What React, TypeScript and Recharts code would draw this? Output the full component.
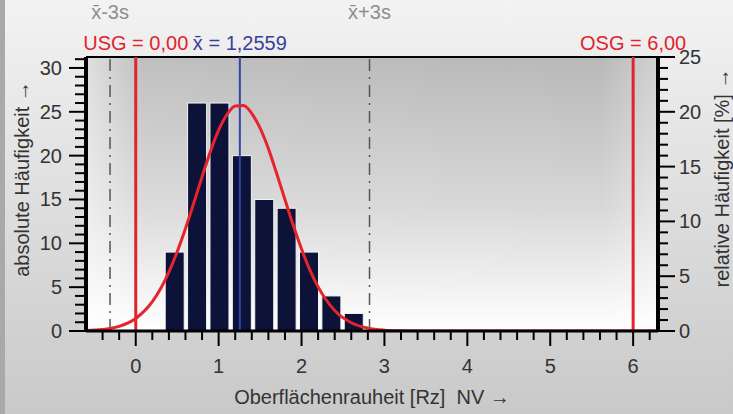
import React from "react";
import { ComposedChart, Bar, Line, XAxis, YAxis, CartesianGrid, ReferenceLine, ReferenceArea, Label } from "recharts";

// histogram bins (class centres) and absolute counts
const binCenters = [0.47, 0.74, 1.01, 1.28, 1.55, 1.82, 2.09, 2.36, 2.63];
const binCounts = [9, 26, 26, 20, 15, 14, 9, 4, 2];

// fitted normal curve
const fitX = [-0.6, -0.4, -0.2, 0, 0.2, 0.4, 0.5, 0.6, 0.7, 0.8, 0.9, 1.0, 1.1, 1.2, 1.3, 1.4, 1.5, 1.6, 1.7, 1.8, 1.9, 2.0, 2.1, 2.2, 2.4, 2.6, 2.8, 3.0, 3.2, 3.4, 4, 5, 6, 6.3];
const fitY = [0.05, 0.17, 0.53, 1.43, 3.34, 6.72, 9.04, 11.7, 14.6, 17.6, 20.45, 22.9, 24.67, 25.65, 25.71, 24.8, 23.13, 20.8, 17.97, 15.0, 12.05, 9.35, 6.98, 5.03, 2.34, 0.94, 0.33, 0.1, 0.03, 0.01, 0, 0, 0, 0];

const xTicks = [-0.4, -0.2, 0, 0.2, 0.4, 0.6, 0.8, 1, 1.2, 1.4, 1.6, 1.8, 2, 2.2, 2.4, 2.6, 2.8, 3, 3.2, 3.4, 3.6, 3.8, 4, 4.2, 4.4, 4.6, 4.8, 5, 5.2, 5.4, 5.6, 5.8, 6, 6.2];
const leftTicks = [0, 1, 2, 3, 4, 5, 6, 7, 8, 9, 10, 11, 12, 13, 14, 15, 16, 17, 18, 19, 20, 21, 22, 23, 24, 25, 26, 27, 28, 29, 30, 31];
const rightTicks = [0, 1, 2, 3, 4, 5, 6, 7, 8, 9, 10, 11, 12, 13, 14, 15, 16, 17, 18, 19, 20, 21, 22, 23, 24, 25];

const mean = 1.2559;
const usg = 0;
const osg = 6;
const minus3s = -0.31;
const plus3s = 2.82;
const countMax = 31.25; // = 25 % of n
const pctMax = 25;

const bars = binCenters.map((x, i) => ({ x, count: binCounts[i] }));
const fit = fitX.map((x, i) => ({ x, fit: fitY[i] }));

const FONT = "'Liberation Sans', Arial, sans-serif";
const TXT = "#333";
const RED = "#e3232b";
const BAR_W = 19;

const isMajor = (v: number, step: number) => Math.abs(v / step - Math.round(v / step)) < 1e-6;

const XTick = (p: any) => {
  const major = isMajor(p.payload.value, 1);
  return (
    <g>
      <line x1={p.x} x2={p.x} y1={p.y} y2={p.y + (major ? 15 : 9)} stroke="#000" strokeWidth={2} />
      {major && (
        <text x={p.x} y={p.y + 42} textAnchor="middle" fontSize={20} fontFamily={FONT} fill={TXT}>
          {Math.round(p.payload.value)}
        </text>
      )}
    </g>
  );
};

const LeftTick = (p: any) => {
  const major = isMajor(p.payload.value, 5);
  return (
    <g>
      <line x1={p.x - (major ? 17 : 11)} x2={p.x} y1={p.y} y2={p.y} stroke="#000" strokeWidth={2} />
      {major && (
        <text x={p.x - 24} y={p.y + 7} textAnchor="end" fontSize={20} fontFamily={FONT} fill={TXT}>
          {p.payload.value}
        </text>
      )}
    </g>
  );
};

const RightTick = (p: any) => {
  const major = isMajor(p.payload.value, 5);
  return (
    <g>
      <line x1={p.x} x2={p.x + (major ? 17 : 10)} y1={p.y} y2={p.y} stroke="#000" strokeWidth={2} />
      {major && (
        <text x={p.x + 21} y={p.y + 7} textAnchor="start" fontSize={20} fontFamily={FONT} fill={TXT}>
          {p.payload.value}
        </text>
      )}
    </g>
  );
};

// bar drawn with fixed width, centred on the slot recharts computed
const BinShape = (p: any) => {
  if (!p.height) return null;
  const cx = p.x + p.width / 2;
  return <rect x={cx - BAR_W / 2} y={p.y} width={BAR_W} height={p.height} fill="#0d1239" stroke="#f4f4f4" strokeWidth={1} />;
};

const topLabel = (value: string, fill: string, offset: number) => ({
  value,
  position: "top" as const,
  offset,
  fill,
  fontSize: 20,
  fontFamily: FONT,
});

export default function App() {
  return (
    <div
      style={{
        position: "absolute",
        left: 0,
        top: 0,
        width: 733,
        height: 414,
        background: "linear-gradient(to bottom, #f3f3f3 0%, #e2e2e2 40%, #c9c9c9 100%)",
        boxShadow: "inset 5px 0 0 #a9a9a9",
      }}
    >
      <ComposedChart width={733} height={414} data={bars} margin={{ top: 57, right: 0, bottom: 0, left: 0 }}>
        <defs>
          <linearGradient id="plotBg" x1="0" y1="0" x2="0" y2="1">
            <stop offset="0%" stopColor="#b8b8b8" />
            <stop offset="55%" stopColor="#d8d8d8" />
            <stop offset="100%" stopColor="#ffffff" />
          </linearGradient>
          <linearGradient id="plotSide" x1="0" y1="0" x2="1" y2="0">
            <stop offset="0%" stopColor="#ffffff" stopOpacity={0.55} />
            <stop offset="10%" stopColor="#ffffff" stopOpacity={0.1} />
            <stop offset="90%" stopColor="#ffffff" stopOpacity={0} />
            <stop offset="100%" stopColor="#ffffff" stopOpacity={0.35} />
          </linearGradient>
        </defs>
        <CartesianGrid yAxisId="left" horizontal={false} vertical={false} fill="url(#plotBg)" />
        <XAxis
          type="number"
          dataKey="x"
          domain={[-0.6, 6.3]}
          allowDataOverflow
          ticks={xTicks}
          interval={0}
          height={83}
          tickSize={0}
          tickMargin={0}
          tickLine={false}
          tick={XTick}
          axisLine={{ stroke: "#000", strokeWidth: 3 }}
        >
          <Label
            content={({ viewBox }: any) => (
              <text
                x={viewBox.x + viewBox.width / 2}
                y={viewBox.y + 73}
                textAnchor="middle"
                fontSize={20}
                fontFamily={FONT}
                fill={TXT}
                style={{ whiteSpace: "pre" }}
              >
                {"Oberflächenrauheit [Rz]  NV →"}
              </text>
            )}
          />
        </XAxis>
        <YAxis
          yAxisId="left"
          width={86}
          domain={[0, countMax]}
          allowDataOverflow
          ticks={leftTicks}
          interval={0}
          tickSize={0}
          tickMargin={0}
          tickLine={false}
          tick={LeftTick}
          axisLine={{ stroke: "#000", strokeWidth: 4 }}
        >
          <Label
            content={({ viewBox }: any) => {
              const cx = 22;
              const cy = viewBox.y + viewBox.height / 2 - 15;
              return (
                <text x={cx} y={cy} transform={`rotate(-90 ${cx} ${cy})`} textAnchor="middle" dominantBaseline="central" fontSize={20} fontFamily={FONT} fill={TXT}>
                  absolute Häufigkeit →
                </text>
              );
            }}
          />
        </YAxis>
        <YAxis
          yAxisId="right"
          orientation="right"
          width={75}
          domain={[0, pctMax]}
          allowDataOverflow
          ticks={rightTicks}
          interval={0}
          tickSize={0}
          tickMargin={0}
          tickLine={false}
          tick={RightTick}
          axisLine={{ stroke: "#000", strokeWidth: 4 }}
        >
          <Label
            content={({ viewBox }: any) => {
              const cx = 722;
              const cy = viewBox.y + viewBox.height / 2 - 16;
              return (
                <text x={cx} y={cy} transform={`rotate(-90 ${cx} ${cy})`} textAnchor="middle" dominantBaseline="central" fontSize={20} fontFamily={FONT} fill={TXT}>
                  relative Häufigkeit [%] →
                </text>
              );
            }}
          />
        </YAxis>
        <ReferenceArea yAxisId="left" x1={-0.6} x2={6.3} y1={0} y2={countMax} fill="url(#plotSide)" fillOpacity={1} stroke="none" />
        <ReferenceLine yAxisId="left" y={countMax} stroke="#000" strokeWidth={2} />
        <ReferenceLine yAxisId="left" x={minus3s} stroke="#555" strokeWidth={1.5} strokeDasharray="12 6 2 6" label={topLabel("x̄-3s", "#8d8d8d", 38)} />
        <ReferenceLine yAxisId="left" x={plus3s} stroke="#555" strokeWidth={1.5} strokeDasharray="12 6 2 6" label={topLabel("x̄+3s", "#8d8d8d", 38)} />
        <Bar yAxisId="left" dataKey="count" fill="#0d1239" shape={BinShape} isAnimationActive={false} />
        <ReferenceLine yAxisId="left" x={usg} stroke={RED} strokeWidth={3} label={topLabel("USG = 0,00", RED, 7)} />
        <ReferenceLine yAxisId="left" x={osg} stroke={RED} strokeWidth={3} label={topLabel("OSG = 6,00", RED, 7)} />
        <ReferenceLine yAxisId="left" x={mean} stroke="#3445a8" strokeWidth={2} label={topLabel("x̄ = 1,2559", "#3a3f96", 7)} />
        <Line yAxisId="left" data={fit} dataKey="fit" type="monotone" stroke="#e5252b" strokeWidth={3} dot={false} isAnimationActive={false} />
      </ComposedChart>
    </div>
  );
}
